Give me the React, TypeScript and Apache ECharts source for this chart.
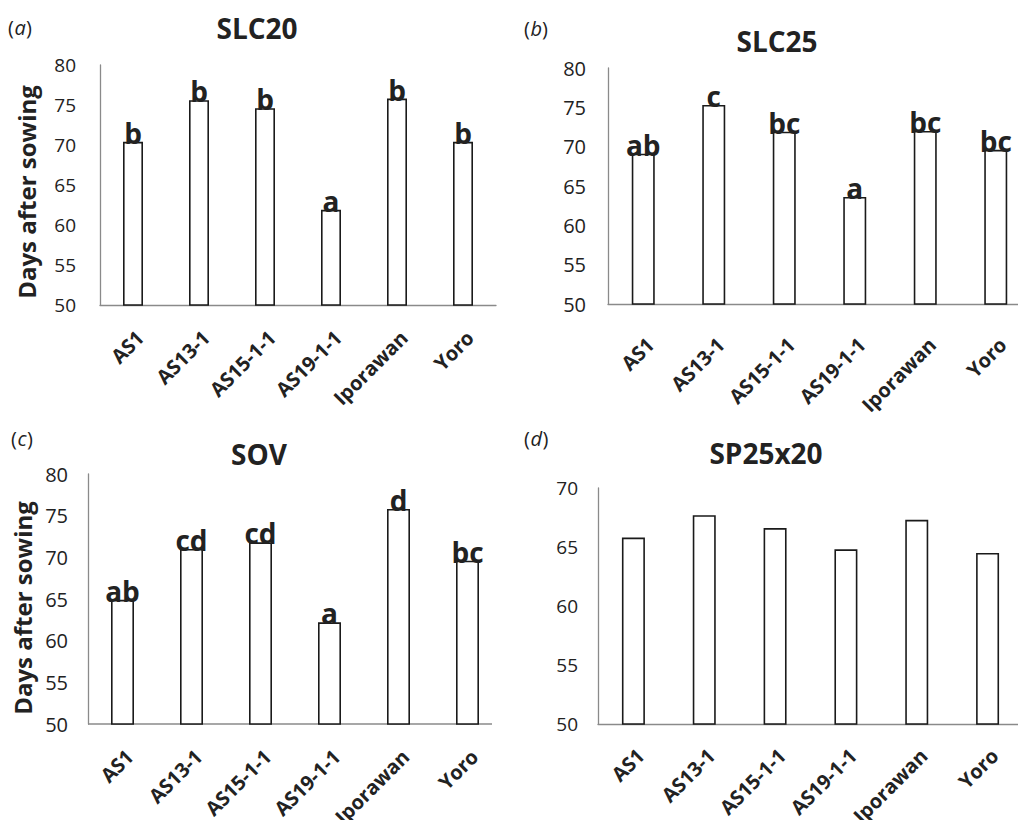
import React, { useEffect, useRef } from 'react';
import * as echarts from 'echarts';

// Genotypes shown on every panel
const categories = ['AS1', 'AS13-1', 'AS15-1-1', 'AS19-1-1', 'Iporawan', 'Yoro'];

// Days after sowing per genotype, with mean-separation letters
const slc20 = [70.4, 75.6, 74.6, 61.9, 75.8, 70.4];
const slc20Letters = ['b', 'b', 'b', 'a', 'b', 'b'];

const slc25 = [69.1, 75.3, 71.9, 63.6, 72.0, 69.6];
const slc25Letters = ['ab', 'c', 'bc', 'a', 'bc', 'bc'];

const sov = [64.9, 71.0, 71.8, 62.2, 75.8, 69.6];
const sovLetters = ['ab', 'cd', 'cd', 'a', 'd', 'bc'];

const sp25x20 = [65.8, 67.7, 66.6, 64.8, 67.3, 64.5];
const sp25x20Letters = ['', '', '', '', '', ''];

// Axis ranges
const yMin = 50;
const yStep = 5;
const yMaxMain = 80;
const yMaxSp = 70;

const FONT = '"Open Sans", "Noto Sans", sans-serif';
const TEXT = '#222';
const AXIS = '#8a8a8a';

const panels = [
  {
    tag: 'a', title: 'SLC20', values: slc20, letters: slc20Letters, max: yMaxMain,
    grid: { left: 100, top: 65, width: 396, height: 240 },
    titlePos: [257, 28], tagPos: [8, 27], tagWidth: 11.5, namePos: [26, 192],
    tickSize: 19, tickMargin: 24, barWidth: 20, catMargin: 22, axisEnd: null,
  },
  {
    tag: 'b', title: 'SLC25', values: slc25, letters: slc25Letters, max: yMaxMain,
    grid: { left: 608, top: 68, width: 423, height: 236 },
    titlePos: [777, 41], tagPos: [524, 28], tagWidth: 11.5, namePos: null,
    tickSize: 20, tickMargin: 22, barWidth: 23, catMargin: 30, axisEnd: null,
  },
  {
    tag: 'c', title: 'SOV', values: sov, letters: sovLetters, max: yMaxMain,
    grid: { left: 88, top: 474, width: 414, height: 250 },
    titlePos: [259, 454], tagPos: [11, 438], tagWidth: 9.5, namePos: [22, 608],
    tickSize: 20, tickMargin: 20, barWidth: 23, catMargin: 22, axisEnd: 492,
  },
  {
    tag: 'd', title: 'SP25x20', values: sp25x20, letters: sp25x20Letters, max: yMaxSp,
    grid: { left: 598, top: 488, width: 425, height: 236 },
    titlePos: [766, 453], tagPos: [524, 438], tagWidth: 12, namePos: null,
    tickSize: 19, tickMargin: 20, barWidth: 23, catMargin: 21, axisEnd: null,
  },
];

function buildOption() {
  const graphic: any[] = [];
  panels.forEach((p) => {
    graphic.push({
      type: 'text',
      x: p.titlePos[0],
      y: p.titlePos[1],
      style: {
        text: p.title,
        font: `bold 28px ${FONT}`,
        fill: TEXT,
        align: 'center',
        verticalAlign: 'middle',
      },
    });
    // panel tag "(x)" with an italic letter
    const [tx, ty] = p.tagPos;
    graphic.push(
      {
        type: 'text', x: tx, y: ty,
        style: { text: '(', font: `20px ${FONT}`, fill: TEXT, verticalAlign: 'middle' },
      },
      {
        type: 'text', x: tx + 6.5, y: ty,
        style: { text: p.tag, font: `italic 20px ${FONT}`, fill: TEXT, verticalAlign: 'middle' },
      },
      {
        type: 'text', x: tx + 6.5 + p.tagWidth, y: ty,
        style: { text: ')', font: `20px ${FONT}`, fill: TEXT, verticalAlign: 'middle' },
      }
    );
    if (p.namePos) {
      graphic.push({
        type: 'text',
        x: p.namePos[0],
        y: p.namePos[1],
        rotation: Math.PI / 2,
        style: {
          text: 'Days after sowing',
          font: `bold 24px ${FONT}`,
          fill: TEXT,
          align: 'center',
          verticalAlign: 'middle',
        },
      });
    }
    if (p.axisEnd != null) {
      // category axis baseline that stops short of the last band
      const y = p.grid.top + p.grid.height;
      graphic.push({
        type: 'line',
        shape: { x1: p.grid.left, y1: y, x2: p.axisEnd, y2: y },
        style: { stroke: AXIS, lineWidth: 1.3 },
        z: 1,
      });
    }
  });

  return {
    animation: false,
    backgroundColor: '#ffffff',
    grid: panels.map((p) => ({ ...p.grid, containLabel: false, outerBoundsMode: 'none' })),
    xAxis: panels.map((p, i) => ({
      type: 'category',
      gridIndex: i,
      data: categories,
      axisLine: { show: p.axisEnd == null, lineStyle: { color: AXIS, width: 1.3 } },
      axisTick: { show: false },
      splitLine: { show: false },
      axisLabel: {
        interval: 0,
        rotate: 45,
        margin: p.catMargin,
        align: 'right',
        verticalAlign: 'top',
        fontFamily: FONT,
        fontWeight: 'bold',
        fontSize: 20,
        color: TEXT,
      },
    })),
    yAxis: panels.map((p, i) => ({
      type: 'value',
      gridIndex: i,
      min: yMin,
      max: p.max,
      interval: yStep,
      axisLine: { show: true, lineStyle: { color: AXIS, width: 1.3 } },
      axisTick: { show: false },
      splitLine: { show: false },
      axisLabel: {
        margin: p.tickMargin,
        fontFamily: FONT,
        fontSize: p.tickSize,
        color: TEXT,
      },
    })),
    series: panels.map((p, i) => ({
      type: 'bar',
      xAxisIndex: i,
      yAxisIndex: i,
      data: p.values,
      barWidth: p.barWidth,
      z: 3,
      itemStyle: { color: '#ffffff', borderColor: '#1a1a1a', borderWidth: 1.6 },
      label: {
        show: true,
        position: 'top',
        distance: -5,
        formatter: (d: any) => p.letters[d.dataIndex],
        fontFamily: FONT,
        fontWeight: 'bold',
        fontSize: 28,
        color: TEXT,
      },
    })),
    graphic,
  };
}

export default function App() {
  const ref = useRef<HTMLDivElement>(null);
  useEffect(() => {
    const chart = echarts.init(ref.current!, null, { renderer: 'svg' });
    chart.setOption(buildOption());
    return () => chart.dispose();
  }, []);
  return (
    <div
      ref={ref}
      style={{ position: 'absolute', left: 0, top: 0, width: 1018, height: 820, background: '#fff' }}
    />
  );
}
